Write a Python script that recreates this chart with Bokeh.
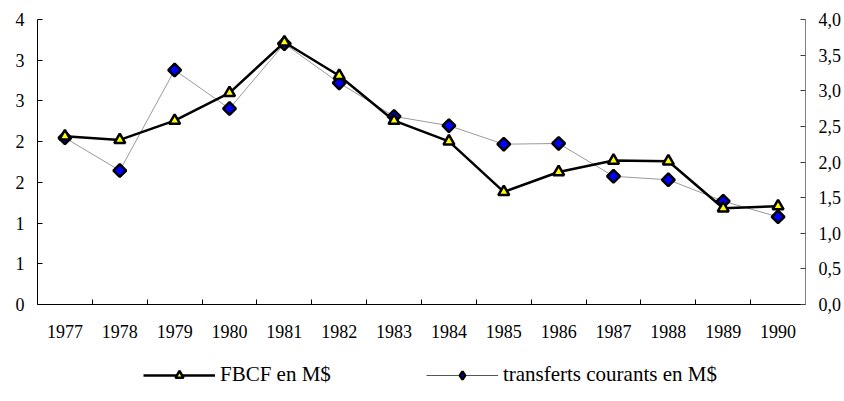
import math
from bokeh.plotting import figure
from bokeh.layouts import column
from bokeh.models import (Range1d, LinearAxis, FixedTicker,
                          NumeralTickFormatter, Legend, LegendItem, ColumnDataSource)
from bokeh.embed import file_html
from bokeh.resources import INLINE

years = ["1977", "1978", "1979", "1980", "1981", "1982", "1983",
         "1984", "1985", "1986", "1987", "1988", "1989", "1990"]
fbcf = [2.36, 2.31, 2.58, 2.97, 3.68, 3.21, 2.58, 2.29, 1.58, 1.86, 2.02, 2.01, 1.35, 1.38]
transferts = [2.34, 1.88, 3.29, 2.75, 3.66, 3.11, 2.64, 2.51, 2.25, 2.26, 1.80, 1.75, 1.45, 1.23]
left_ticks = [4 * i / 7 for i in range(8)]
right_ticks = [0, 0.5, 1.0, 1.5, 2.0, 2.5, 3.0, 3.5, 4.0]
right_labels = ["0,0", "0,5", "1,0", "1,5", "2,0", "2,5", "3,0", "3,5", "4,0"]

FONT = "Liberation Serif"
n = len(years)
centers = [i + 0.5 for i in range(n)]

p = figure(x_range=Range1d(0, n), y_range=Range1d(0, 4),
           frame_width=768, frame_height=285,
           min_border_left=37, min_border_top=19, min_border_right=40, min_border_bottom=50,
           x_axis_location=None, y_axis_location=None,
           output_backend="svg", toolbar_location=None, background_fill_color="white",
           border_fill_color="white")
p.outline_line_color = None
p.xgrid.visible = False
p.ygrid.visible = False
p.extra_y_ranges = {"right": Range1d(0, 4)}

# x axis: boundary ticks (no labels)
tick_axis = LinearAxis(ticker=FixedTicker(ticks=list(range(1, n))),
                       major_tick_in=5, major_tick_out=0, minor_tick_line_color=None,
                       major_label_overrides={i: "" for i in range(1, n)},
                       major_label_standoff=0, major_label_text_font_size="1px",
                       axis_line_color="black", major_tick_line_color="black")
p.add_layout(tick_axis, "below")
cat_axis = LinearAxis(ticker=FixedTicker(ticks=centers),
                      major_label_overrides=dict(zip(centers, years)),
                      axis_line_color=None, major_tick_line_color=None,
                      minor_tick_line_color=None, major_label_standoff=14,
                      major_label_text_font=FONT, major_label_text_font_size="18px",
                      major_label_text_color="black")
p.add_layout(cat_axis, "below")

left_axis = LinearAxis(ticker=FixedTicker(ticks=left_ticks), formatter=NumeralTickFormatter(format="0"),
                       major_tick_in=5, major_tick_out=0, minor_tick_line_color=None,
                       major_label_standoff=13, major_label_text_font=FONT,
                       major_label_text_font_size="18px", major_label_text_color="black",
                       axis_line_color="black", major_tick_line_color="black")
p.add_layout(left_axis, "left")

right_axis = LinearAxis(y_range_name="right", ticker=FixedTicker(ticks=right_ticks),
                        major_label_overrides=dict(zip(right_ticks, right_labels)),
                        major_tick_in=5, major_tick_out=0, minor_tick_line_color=None,
                        major_label_standoff=13, major_label_text_font=FONT,
                        major_label_text_font_size="18px", major_label_text_color="black",
                        axis_line_color="#808080", major_tick_line_color="#404040")
p.add_layout(right_axis, "right")

src = ColumnDataSource(dict(x=centers, fbcf=fbcf, transferts=transferts))

T_LINE = dict(line_color="#9a9a9a", line_width=1)
T_MARK = dict(marker="square", angle=math.pi / 4, size=9, fill_color="#0000ff",
              line_color="black", line_width=2.5)
F_LINE = dict(line_color="black", line_width=2.5)
F_MARK = dict(marker="triangle", size=11, fill_color="#ffff00", line_color="black", line_width=2.5)

p.line("x", "transferts", source=src, y_range_name="right", **T_LINE)
p.scatter("x", "transferts", source=src, y_range_name="right", **T_MARK)
p.line("x", "fbcf", source=src, **F_LINE)
p.scatter("x", "fbcf", source=src, **F_MARK)

# legend strip (its own figure, placed under the chart)
lg = figure(x_range=Range1d(100, 101), y_range=Range1d(100, 101),
            frame_width=768, frame_height=40,
            min_border_left=37, min_border_top=0, min_border_right=40, min_border_bottom=0,
            x_axis_location=None, y_axis_location=None,
            output_backend="svg", toolbar_location=None, border_fill_color="white")
lg.outline_line_color = None
lg.xgrid.visible = False
lg.ygrid.visible = False
tl = lg.line("x", "transferts", source=src, line_color="#555555", line_width=1)
tm = lg.scatter("x", "transferts", source=src, marker="diamond", size=13, fill_color="#0000ff",
                line_color="black", line_width=2.5)
fl = lg.line("x", "fbcf", source=src, **F_LINE)
fm = lg.scatter("x", "fbcf", source=src, **F_MARK)

legend = Legend(items=[LegendItem(label="FBCF en M$", renderers=[fl, fm]),
                       LegendItem(label="transferts courants en M$", renderers=[tl, tm])],
                orientation="horizontal", location=(106, 7), glyph_width=72, glyph_height=20,
                label_height=20, label_standoff=5, spacing=95, padding=0, margin=0,
                border_line_color=None, background_fill_alpha=0,
                label_text_font=FONT, label_text_font_size="21px", label_text_color="black")
lg.add_layout(legend, "center")

layout = column(p, lg, spacing=0)
open("out.html", "w").write(file_html(layout, INLINE))
